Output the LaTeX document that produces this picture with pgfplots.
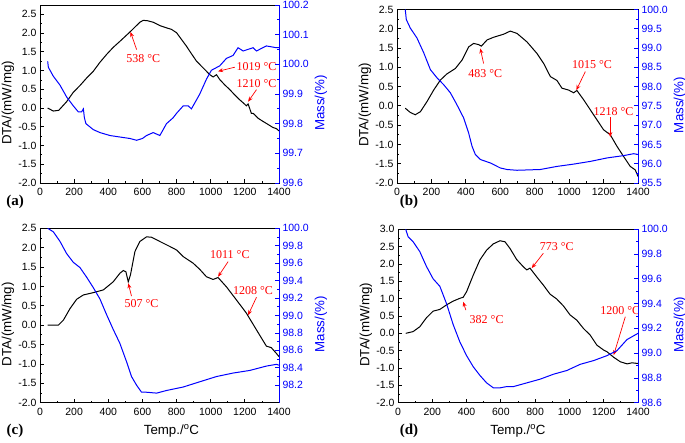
\documentclass[border=0pt]{standalone}
\usepackage{fontspec}
\setmainfont{Liberation Sans}
\newfontfamily\tnr{Liberation Serif}
\usepackage{pgfplots}
\pgfplotsset{compat=1.18}
\usetikzlibrary{arrows.meta}

\newcommand{\tickfont}{\fontsize{10.5}{12}\selectfont}
\newcommand{\labfont}{\fontsize{13.3}{15}\selectfont}
\newcommand{\annfont}{\tnr\fontsize{12}{14}\selectfont}

\tikzset{
  ann/.style={red, font=\annfont},
  arr/.style={red, line width=0.7pt, -{Stealth[length=5pt,width=4pt]}},
  dline/.style={black, line width=1pt},
  mline/.style={blue, line width=1pt}
}

\pgfplotsset{
  base/.style={scale only axis, xmin=0, xmax=1400, anchor=south west,
    tick align=inside, major tick length=4pt, minor tick length=2pt,
    minor y tick num=1, /pgf/number format/assume math mode=true,
    /pgf/number format/1000 sep={},
    tick label style={font=\tickfont},
    axis line style={line width=0.8pt}, every tick/.style={line width=0.8pt}},
  dta/.style={base, xtick={0,200,400,600,800,1000,1200,1400}, minor x tick num=1,
    xtick pos=bottom, ytick pos=left,
    xticklabel style={yshift=-1.5pt},
    yticklabel style={/pgf/number format/.cd, fixed, fixed zerofill, precision=1},
    ylabel={DTA/(mW/mg)},
    every axis y label/.style={at={(axis description cs:0,0.45)}, xshift=-32pt,
      rotate=90, anchor=center, font=\labfont},
    every axis x label/.style={at={(axis description cs:0.5,0)}, yshift=-28pt,
      anchor=center, font=\labfont}},
  mass/.style={base, axis x line=none, axis y line*=right,
    y axis line style={blue, -, line width=0.8pt},
    every y tick/.style={blue, line width=0.8pt},
    yticklabel style={blue, /pgf/number format/.cd, fixed, fixed zerofill, precision=1},
    ylabel={Mass/(\%)},
    every axis y label/.style={at={(axis description cs:1,0.45)}, xshift=42pt,
      rotate=90, anchor=center, font=\labfont, blue}}
}

\begin{document}
\begin{tikzpicture}[x=1pt,y=1pt]
\useasboundingbox (0,0) rectangle (685,442);

% ---------- (a)
\begin{axis}[dta, at={(40pt,259pt)}, width=239pt, height=178pt,
  ymin=-2, ymax=2.75, ytick={-2,-1.5,-1,-0.5,0,0.5,1,1.5,2,2.5}]
\addplot[dline] coordinates {
(45,0.0)(78,-0.08)(110,-0.06)(156,0.17)(195,0.42)(234,0.6)(273,0.8)(312,0.98)
(351,1.22)(390,1.43)(429,1.62)(468,1.78)(527,2.03)(556,2.16)(585,2.29)(605,2.34)
(630,2.33)(663,2.29)(702,2.2)(741,2.14)(770,2.1)(800,2.01)(829,1.83)(858,1.65)
(887,1.45)(917,1.25)(956,1.07)(995,0.89)(1014,0.83)(1034,0.89)(1053,0.76)
(1082,0.62)(1112,0.49)(1141,0.35)(1170,0.22)(1190,0.14)(1209,0.06)(1219,0.11)
(1229,-0.02)(1238,-0.14)(1248,-0.14)(1258,-0.18)(1277,-0.27)(1297,-0.33)
(1326,-0.41)(1365,-0.52)(1385,-0.55)(1400,-0.61)};
\node[ann] at (axis cs:605,1.31) {538 °C};
\draw[arr] (axis cs:566,1.56) -- (axis cs:530,2.03);
\node[ann] at (axis cs:1268,1.11) {1019 °C};
\draw[arr] (axis cs:1141,1.09) -- (axis cs:1043,0.98);
\node[ann] at (axis cs:1268,0.65) {1210 °C};
\draw[arr] (axis cs:1268,0.49) -- (axis cs:1219,0.17);
\end{axis}
\begin{axis}[mass, at={(40pt,259pt)}, width=239pt, height=178pt,
  ymin=99.6, ymax=100.2, ytick={99.6,99.7,99.8,99.9,100,100.1,100.2}]
\addplot[mline] coordinates {
(45,100.01)(49,99.99)(78,99.96)(117,99.93)(156,99.89)(195,99.86)(224,99.84)
(244,99.84)(254,99.85)(260,99.82)(269,99.80)(312,99.78)(351,99.77)(410,99.76)
(468,99.755)(527,99.75)(566,99.744)(600,99.75)(624,99.76)(663,99.77)(702,99.76)
(741,99.80)(780,99.82)(800,99.835)(839,99.86)(868,99.86)(887,99.85)(897,99.86)
(936,99.90)(975,99.95)(1004,99.98)(1053,99.995)(1092,100.02)(1131,100.03)
(1160,100.056)(1190,100.045)(1248,100.056)(1268,100.045)(1326,100.062)
(1385,100.056)(1400,100.056)};
\end{axis}

% ---------- (b)
\begin{axis}[dta, at={(397pt,259pt)}, width=241pt, height=173.5pt,
  ymin=-2, ymax=2.5, ytick={-2,-1.5,-1,-0.5,0,0.5,1,1.5,2,2.5}]
\addplot[dline] coordinates {
(48,-0.06)(77,-0.17)(106,-0.23)(136,-0.15)(174,0.11)(213,0.41)(252,0.67)
(290,0.83)(339,0.97)(378,1.19)(416,1.53)(445,1.62)(474,1.59)(490,1.55)
(523,1.71)(561,1.78)(620,1.86)(658,1.94)(697,1.88)(755,1.66)(813,1.36)
(852,1.10)(891,0.76)(929,0.66)(958,0.46)(997,0.41)(1026,0.34)(1045,0.40)
(1084,0.16)(1142,-0.23)(1200,-0.62)(1239,-0.75)(1278,-1.05)(1316,-1.31)
(1355,-1.57)(1384,-1.66)(1400,-1.83)};
\node[ann] at (axis cs:513,0.83) {483 °C};
\draw[arr] (axis cs:503,1.10) -- (axis cs:484,1.49);
\node[ann] at (axis cs:1133,1.06) {1015 °C};
\draw[arr] (axis cs:1094,0.89) -- (axis cs:1042,0.41);
\node[ann] at (axis cs:1258,-0.15) {1218 °C};
\draw[arr] (axis cs:1239,-0.29) -- (axis cs:1239,-0.81);
\end{axis}
\begin{axis}[mass, at={(397pt,259pt)}, width=241pt, height=173.5pt,
  ymin=95.5, ymax=100, ytick={95.5,96,96.5,97,97.5,98,98.5,99,99.5,100}]
\addplot[mline] coordinates {
(48,100.0)(54,99.74)(77,99.52)(116,99.26)(155,98.88)(194,98.44)(232,98.23)
(271,98.05)(310,97.84)(348,97.53)(387,97.19)(416,96.80)(436,96.45)(455,96.24)
(484,96.11)(542,96.02)(600,95.89)(639,95.85)(697,95.83)(832,95.85)(929,95.93)
(1026,95.99)(1123,96.06)(1220,96.15)(1316,96.21)(1375,96.26)(1400,96.24)};
\end{axis}

% ---------- (c)
\begin{axis}[dta, at={(40pt,39.3pt)}, width=239pt, height=174.4pt,
  ymin=-2, ymax=2.5, ytick={-2,-1.5,-1,-0.5,0,0.5,1,1.5,2,2.5},
  xlabel={Temp./\textsuperscript{o}C},
  every axis x label/.append style={at={(axis description cs:0.55,0)}}]
\addplot[dline] coordinates {
(45,0.0)(107,0.0)(137,0.13)(176,0.43)(215,0.67)(254,0.78)(312,0.84)(371,0.91)
(429,1.12)(468,1.34)(488,1.41)(503,1.38)(517,1.12)(530,1.30)(556,1.90)
(585,2.16)(624,2.28)(653,2.27)(702,2.16)(761,2.03)(800,1.94)(839,1.77)
(897,1.60)(936,1.44)(975,1.25)(1014,1.18)(1043,1.23)(1092,0.99)(1151,0.65)
(1209,0.31)(1268,-0.12)(1326,-0.54)(1355,-0.58)(1385,-0.73)(1400,-0.81)};
\node[ann] at (axis cs:595,0.56) {507 °C};
\draw[arr] (axis cs:536,0.75) -- (axis cs:517,1.08);
\node[ann] at (axis cs:1112,1.81) {1011 °C};
\draw[arr] (axis cs:1102,1.64) -- (axis cs:1043,1.25);
\node[ann] at (axis cs:1248,0.89) {1208 °C};
\draw[arr] (axis cs:1268,0.72) -- (axis cs:1219,0.26);
\end{axis}
\begin{axis}[mass, at={(40pt,39.3pt)}, width=239pt, height=174.4pt,
  ymin=98.0, ymax=100, ytick={98.2,98.4,98.6,98.8,99,99.2,99.4,99.6,99.8,100}]
\addplot[mline] coordinates {
(45,100.0)(78,99.96)(117,99.85)(156,99.71)(195,99.61)(234,99.55)(273,99.44)
(312,99.32)(351,99.19)(390,99.01)(429,98.84)(468,98.68)(507,98.47)(536,98.30)
(566,98.20)(595,98.12)(624,98.12)(683,98.11)(741,98.14)(839,98.18)(936,98.24)
(1034,98.30)(1131,98.34)(1229,98.37)(1326,98.42)(1385,98.44)(1400,98.43)};
\end{axis}

% ---------- (d)
\begin{axis}[dta, at={(398pt,39.3pt)}, width=240pt, height=173.4pt,
  ymin=-2, ymax=3, ytick={-2,-1.5,-1,-0.5,0,0.5,1,1.5,2,2.5,3},
  xlabel={Temp./\textsuperscript{o}C}]
\addplot[dline] coordinates {
(45,0.0)(88,0.05)(127,0.19)(166,0.45)(205,0.64)(244,0.69)(283,0.82)(322,0.93)
(361,1.01)(380,1.04)(400,1.20)(439,1.68)(478,2.12)(517,2.40)(556,2.58)
(595,2.67)(624,2.64)(653,2.45)(692,2.13)(731,1.92)(751,1.83)(770,1.88)
(809,1.63)(848,1.39)(887,1.13)(926,0.99)(965,0.79)(1004,0.53)(1043,0.38)
(1082,0.14)(1121,-0.05)(1160,-0.34)(1199,-0.48)(1219,-0.53)(1258,-0.69)
(1297,-0.82)(1336,-0.88)(1365,-0.85)(1400,-0.87)};
\node[ann] at (axis cs:517,0.40) {382 °C};
\draw[arr] (axis cs:396,0.67) -- (axis cs:380,0.91);
\node[ann] at (axis cs:926,2.50) {773 °C};
\draw[arr] (axis cs:848,2.31) -- (axis cs:780,1.88);
\node[ann] at (axis cs:1297,0.67) {1200 °C};
\draw[arr] (axis cs:1326,0.48) -- (axis cs:1258,-0.63);
\end{axis}
\begin{axis}[mass, at={(398pt,39.3pt)}, width=240pt, height=173.4pt,
  ymin=98.6, ymax=100, ytick={98.6,98.8,99,99.2,99.4,99.6,99.8,100}]
\addplot[mline] coordinates {
(45,100.0)(59,99.94)(88,99.90)(127,99.82)(166,99.70)(205,99.60)(244,99.54)
(283,99.40)(322,99.23)(361,99.09)(400,98.98)(439,98.89)(478,98.82)(517,98.76)
(556,98.72)(595,98.72)(634,98.73)(673,98.73)(712,98.745)(751,98.76)(829,98.79)
(907,98.83)(985,98.86)(1063,98.91)(1141,98.94)(1219,98.98)(1277,99.02)
(1336,99.11)(1400,99.16)};
\end{axis}

\node[font=\tnr\bfseries\fontsize{15}{17}\selectfont] at (15,240) {(a)};
\node[font=\tnr\bfseries\fontsize{15}{17}\selectfont] at (409,240) {(b)};
\node[font=\tnr\bfseries\fontsize{15}{17}\selectfont] at (15,11) {(c)};
\node[font=\tnr\bfseries\fontsize{15}{17}\selectfont] at (409,11) {(d)};
\end{tikzpicture}
\end{document}
